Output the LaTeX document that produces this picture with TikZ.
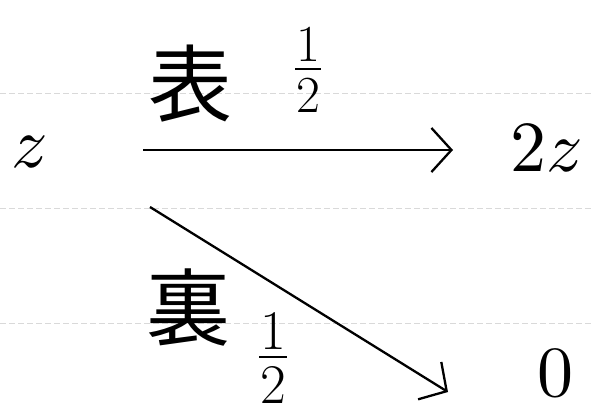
\documentclass[tikz,border=0pt]{standalone}
\usepackage{amsmath}
\usepackage{fontspec}
\newfontfamily\jpfont{Noto Sans CJK JP}
\usetikzlibrary{arrows.meta}

% one half, stacked by hand
\newcommand{\probhalf}{\shortstack{1\\[3pt]\rule{0.5em}{0.05em}\\[5pt]2}}

\begin{document}
\begin{tikzpicture}
[
    x=1pt, y=1pt,
    rule/.style={gray!30, line width=1pt, dash pattern=on 6pt off 3pt},
    flow/.style={line width=2.3pt, -{Straight Barb[length=20pt, width=44pt]}},
    sym/.style={scale=7.2, transform shape, inner sep=0pt},
    kanji/.style={font=\jpfont\fontsize{84}{84}\selectfont, inner sep=0pt},
    prob/.style={font=\fontsize{52}{52}\selectfont, inner sep=0pt},
]
\useasboundingbox (0,0) rectangle (594,-413);
% ruled lines of the notebook
\foreach \y in {93, 208, 323}
    \draw [rule] (0,-\y) -- (594,-\y);

\node [sym] (z) at (30,-152) {$z$};
\node [sym] (twoz) at (547,-148) {$2z$};
\node [sym] (zero) at (555,-373) {$0$};

\coordinate (hstart) at (143,-150);
\coordinate (htip) at (453,-150);
\coordinate (dstart) at (150,-207);
\coordinate (dtip) at (448,-392);

\draw [flow] (hstart) -- (htip);
\draw [flow] (dstart) -- (dtip);

\node [kanji] (omote) at (190,-84) {表};
\node [prob] (pomote) at (308,-70) {\probhalf};
\node [kanji] (ura) at (188,-308) {裏};
\node [prob, font=\fontsize{56}{56}\selectfont] (pura) at (273,-358) {\probhalf};
\end{tikzpicture}
\end{document}
